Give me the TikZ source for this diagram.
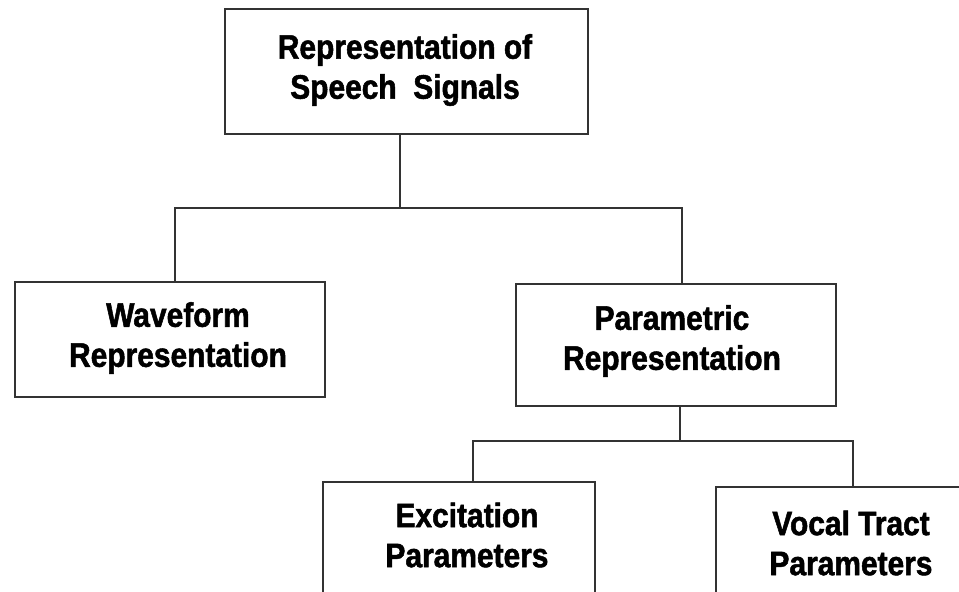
\documentclass[tikz,border=0pt]{standalone}
\usepackage{fontspec}
\setmainfont{Liberation Sans}
% heavy, slightly condensed face for the captions
\newfontfamily\capfont{Liberation Sans}[BoldFeatures={FakeStretch=0.88,FakeBold=1.5}]
\begin{document}
\begin{tikzpicture}[x=1pt,y=-1pt,
  box/.style={draw=black!80, line width=1.3pt, rectangle, inner sep=0pt},
  lbl/.style={align=center, inner sep=0pt,
    font=\capfont\fontsize{34}{40}\selectfont\bfseries},
  wire/.style={draw=black!80, line width=1.3pt}]
  \useasboundingbox (0,0) rectangle (959,592);

  % boxes of the hierarchy
  \node[box, minimum width=363pt, minimum height=125pt] (top)   at (406.5,71.5) {};
  \node[box, minimum width=310pt, minimum height=115pt] (wave)  at (170,339.5) {};
  \node[box, minimum width=320pt, minimum height=122pt] (param) at (676,345) {};
  \node[box, minimum width=272pt, minimum height=158pt] (exc)   at (459,561) {};
  \node[box, minimum width=284pt, minimum height=153pt] (vocal) at (858,563.5) {};

  % captions
  \node[lbl] (topT)   at (405,70)  {Representation of\\Speech\ \ Signals};
  \node[lbl] (waveT)  at (178,338) {Waveform\\Representation};
  \node[lbl] (paramT) at (672,341) {Parametric\\Representation};
  \node[lbl] (excT)   at (467,535) {Excitation\\Parameters};
  \node[lbl] (vocalT) at (851,543) {Vocal Tract\\Parameters};

  % first level of branches
  \coordinate (busA)  at (400,208);
  \coordinate (busAl) at (175,208);
  \coordinate (busAr) at (682,208);
  \draw[wire] (top.south -| busA) -- (busA);
  \draw[wire] (wave.north -| busAl) -- (busAl) -- (busAr) -- (param.north -| busAr);

  % second level of branches
  \coordinate (busB)  at (680,441);
  \coordinate (busBl) at (473,441);
  \coordinate (busBr) at (853,441);
  \draw[wire] (param.south -| busB) -- (busB);
  \draw[wire] (exc.north -| busBl) -- (busBl) -- (busBr) -- (vocal.north -| busBr);
\end{tikzpicture}
\end{document}
